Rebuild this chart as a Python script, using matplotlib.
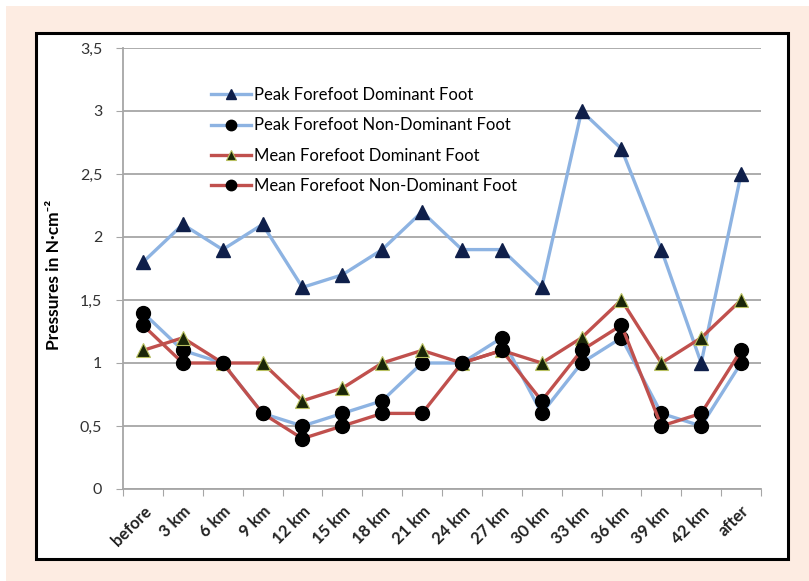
import numpy as np
import matplotlib as mpl
mpl.use('Agg')
import matplotlib.pyplot as plt
from matplotlib.patches import Rectangle

# Data
stages = ['before', '3 km', '6 km', '9 km', '12 km', '15 km', '18 km', '21 km',
          '24 km', '27 km', '30 km', '33 km', '36 km', '39 km', '42 km', 'after']
peak_dom = [1.8, 2.1, 1.9, 2.1, 1.6, 1.7, 1.9, 2.2, 1.9, 1.9, 1.6, 3.0, 2.7, 1.9, 1.0, 2.5]
peak_nondom = [1.4, 1.1, 1.0, 0.6, 0.5, 0.6, 0.7, 1.0, 1.0, 1.2, 0.6, 1.0, 1.2, 0.6, 0.5, 1.0]
mean_dom = [1.1, 1.2, 1.0, 1.0, 0.7, 0.8, 1.0, 1.1, 1.0, 1.1, 1.0, 1.2, 1.5, 1.0, 1.2, 1.5]
mean_nondom = [1.3, 1.0, 1.0, 0.6, 0.4, 0.5, 0.6, 0.6, 1.0, 1.1, 0.7, 1.1, 1.3, 0.5, 0.6, 1.1]
yticks = [0, 0.5, 1, 1.5, 2, 2.5, 3, 3.5]
ytick_labels = ['0', '0,5', '1', '1,5', '2', '2,5', '3', '3,5']

plt.rcParams['font.family'] = ['Lato', 'DejaVu Sans']

W, H = 809, 581
fig = plt.figure(figsize=(W / 100, H / 100), dpi=100)
fig.patch.set_facecolor('white')

# peach page background and white framed chart area
fig.patches.append(Rectangle((6 / W, 0), 1, 1 - 6 / H, transform=fig.transFigure,
                             facecolor='#fdece2', edgecolor='none', zorder=-3))
fig.patches.append(Rectangle((36 / W, 1 - 559 / H), (788 - 36) / W, (559 - 33) / H,
                             transform=fig.transFigure, facecolor='white',
                             edgecolor='black', linewidth=2.2, zorder=-2))

ax = fig.add_axes([123 / W, 1 - 489 / H, (761 - 123) / W, (489 - 48) / H])
ax.set_facecolor('none')

x = np.arange(len(stages))
blue = '#8db3e2'
red = '#c0504d'
ax.plot(x, peak_dom, color=blue, lw=2.4, marker='^', ms=10, mfc='#0f1f4a', mec='#0f1f4a',
        label='Peak Forefoot Dominant Foot', zorder=3)
ax.plot(x, peak_nondom, color=blue, lw=2.4, marker='o', ms=10, mfc='black', mec='black',
        label='Peak Forefoot Non-Dominant Foot', zorder=3)
ax.plot(x, mean_dom, color=red, lw=2.4, marker='^', ms=10, mfc='#1a2608', mec='#b8c060', mew=0.8,
        label='Mean Forefoot Dominant Foot', zorder=4)
ax.plot(x, mean_nondom, color=red, lw=2.4, marker='o', ms=10, mfc='black', mec='black',
        label='Mean Forefoot Non-Dominant Foot', zorder=4)

ax.set_xlim(-0.5, len(stages) - 0.5)
ax.set_ylim(0, 3.5)
ax.set_yticks(yticks)
ax.set_yticklabels(ytick_labels, fontsize=11.5, color='#333333')
ax.yaxis.grid(True, color='#a6a6a6', lw=1.3)
ax.set_axisbelow(True)

ax.set_xticks(np.arange(len(stages) + 1) - 0.5, minor=False)
ax.set_xticklabels([])
ax.set_xticks(x, minor=True)
ax.set_xticklabels(stages, minor=True, rotation=45, ha='right', va='top',
                   rotation_mode='anchor', fontsize=12, fontweight='bold', color='#222222')
ax.tick_params(axis='x', which='minor', length=0, pad=10)
ax.tick_params(axis='x', which='major', length=5, color='#a6a6a6')
ax.tick_params(axis='y', length=5, color='#a6a6a6', pad=10)

for s in ['top', 'right']:
    ax.spines[s].set_visible(False)
for s in ['left', 'bottom']:
    ax.spines[s].set_color('#a6a6a6')
    ax.spines[s].set_linewidth(1.3)

ax.set_ylabel('Pressures in N·cm⁻²', fontsize=12.5, fontweight='bold')
ax.yaxis.set_label_coords(-0.096, 0.485)

ax.legend(loc='upper left', bbox_to_anchor=(0.115, 0.945), frameon=False,
          fontsize=12, handlelength=2.4, handletextpad=0.15, labelspacing=0.85,
          markerscale=0.75)

plt.savefig('out.png', dpi=100)
